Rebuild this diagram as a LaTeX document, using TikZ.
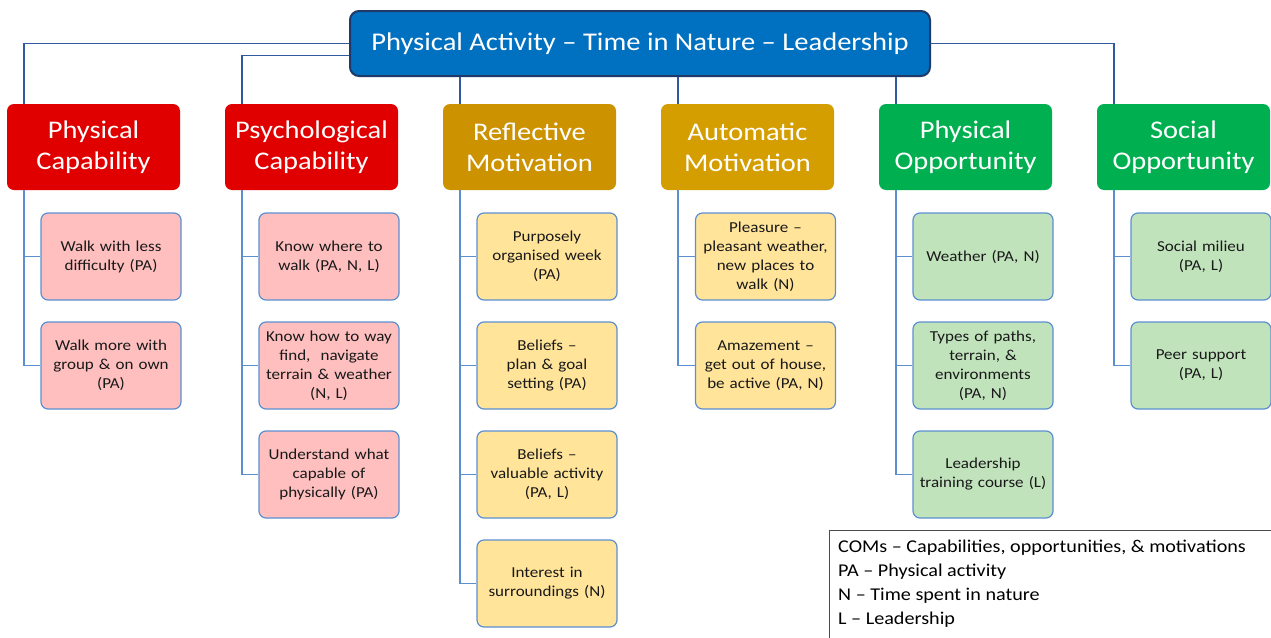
\documentclass[tikz,border=0pt]{standalone}
\usepackage{fontspec}
\setmainfont[FakeStretch=1.12]{Carlito}
\definecolor{rootblue}{HTML}{0070C0}
\definecolor{rootedge}{HTML}{1F3A68}
\definecolor{linkblue}{HTML}{2F5A9E}
\definecolor{capred}{HTML}{E00000}
\definecolor{refgold}{HTML}{CC9200}
\definecolor{autogold}{HTML}{D49E00}
\definecolor{oppgreen}{HTML}{00B050}
\definecolor{pinkleaf}{HTML}{FFBFBF}
\definecolor{yellowleaf}{HTML}{FFE49A}
\definecolor{greenleaf}{HTML}{C1E3BC}
\definecolor{leafedge}{HTML}{5B8FD0}
\begin{document}
\begin{tikzpicture}[x=1pt,y=-1pt,
  rootbox/.style={draw=rootedge, line width=2pt, fill=rootblue, rounded corners=9pt,
    minimum width=580pt, minimum height=65pt, text=white,
    font=\fontsize{25.5}{30}\selectfont},
  catbox/.style={rounded corners=7pt, minimum width=173pt, minimum height=86pt,
    text=white, align=center, font=\fontsize{25.4}{31}\selectfont},
  leafbox/.style={draw=leafedge, line width=1.2pt, rounded corners=7pt,
    minimum width=140pt, minimum height=87pt, text width=132pt, inner xsep=4pt,
    align=center, text=black!90, font=\fontsize{15.2}{19}\selectfont},
  link/.style={draw=linkblue, line width=1.6pt},
  twig/.style={draw=leafedge, line width=1.4pt}]
\useasboundingbox (0,0) rectangle (1271,637);

% root
\node[rootbox] (root) at (640,43.5) {Physical Activity – Time in Nature – Leadership};

% COM categories
\node[catbox, fill=capred]   (c1) at (93.5,147)  {Physical\\Capability};
\node[catbox, fill=capred]   (c2) at (311.5,147) {Psychological\\Capability};
\node[catbox, fill=refgold]  (c3) at (529.5,147) {Reflective\\Motivation};
\node[catbox, fill=autogold] (c4) at (747.5,147) {Automatic\\Motivation};
\node[catbox, fill=oppgreen] (c5) at (965.5,147) {Physical\\Opportunity};
\node[catbox, fill=oppgreen] (c6) at (1183.5,147) {Social\\Opportunity};

% trunk points at the top and bottom of each category
\foreach \i in {1,...,6}{
  \coordinate (t\i) at ([xshift=17pt]c\i.north west);
  \coordinate (b\i) at ([xshift=17pt]c\i.south west);
}

% root to categories
\draw[link] (root.west) -| (t1);
\draw[link] ([yshift=-12pt]root.west) -| (t2);
\draw[link] (root.south -| t3) -- (t3);
\draw[link] (root.south -| t4) -- (t4);
\draw[link] (root.south -| t5) -- (t5);
\draw[link] (root.east) -| (t6);

% leaves
\node[leafbox, fill=pinkleaf] (l11) at (111,256.5) {Walk with less\\difficulty (PA)};
\node[leafbox, fill=pinkleaf] (l12) at (111,365.5) {Walk more with\\group \& on own\\(PA)};

\node[leafbox, fill=pinkleaf] (l21) at (329,256.5) {Know where to\\walk (PA, N, L)};
\node[leafbox, fill=pinkleaf] (l22) at (329,365.5) {Know how to way\\find,\ \ navigate\\terrain \& weather\\(N, L)};
\node[leafbox, fill=pinkleaf] (l23) at (329,474.5) {Understand what\\capable of\\physically (PA)};

\node[leafbox, fill=yellowleaf] (l31) at (547,256.5) {Purposely\\organised week\\(PA)};
\node[leafbox, fill=yellowleaf] (l32) at (547,365.5) {Beliefs –\\plan \& goal\\setting (PA)};
\node[leafbox, fill=yellowleaf] (l33) at (547,474.5) {Beliefs –\\valuable activity\\(PA, L)};
\node[leafbox, fill=yellowleaf] (l34) at (547,583.5) {Interest in\\surroundings\ (N)};

\node[leafbox, fill=yellowleaf] (l41) at (765.5,256.5) {Pleasure –\\pleasant weather,\\new places to\\walk (N)};
\node[leafbox, fill=yellowleaf] (l42) at (765.5,365.5) {Amazement\ –\\get out of house,\\be active (PA, N)};

\node[leafbox, fill=greenleaf] (l51) at (983,256.5) {Weather (PA, N)};
\node[leafbox, fill=greenleaf] (l52) at (983,365.5) {Types of paths,\\terrain, \&\\environments\\(PA, N)};
\node[leafbox, fill=greenleaf] (l53) at (983,474.5) {Leadership\\training course (L)};

\node[leafbox, fill=greenleaf] (l61) at (1201,256.5) {Social milieu\\(PA, L)};
\node[leafbox, fill=greenleaf] (l62) at (1201,365.5) {Peer support\\(PA, L)};

% category trunks to leaves
\foreach \c/\n in {1/2,2/3,3/4,4/2,5/3,6/2}{
  \foreach \k in {1,...,\n}{
    \draw[twig] (b\c) |- (l\c\k.west);
  }
}

% legend
\draw[draw=black!70, line width=1pt] (829,530) rectangle (1290,660);
\node[anchor=north west, align=left, inner sep=0pt,
  font=\fontsize{18}{24}\selectfont] (legend) at (838,540)
  {COMs – Capabilities, opportunities, \& motivations\\
   PA – Physical activity\\
   N – Time spent in nature\\
   L – Leadership};
\end{tikzpicture}
\end{document}
